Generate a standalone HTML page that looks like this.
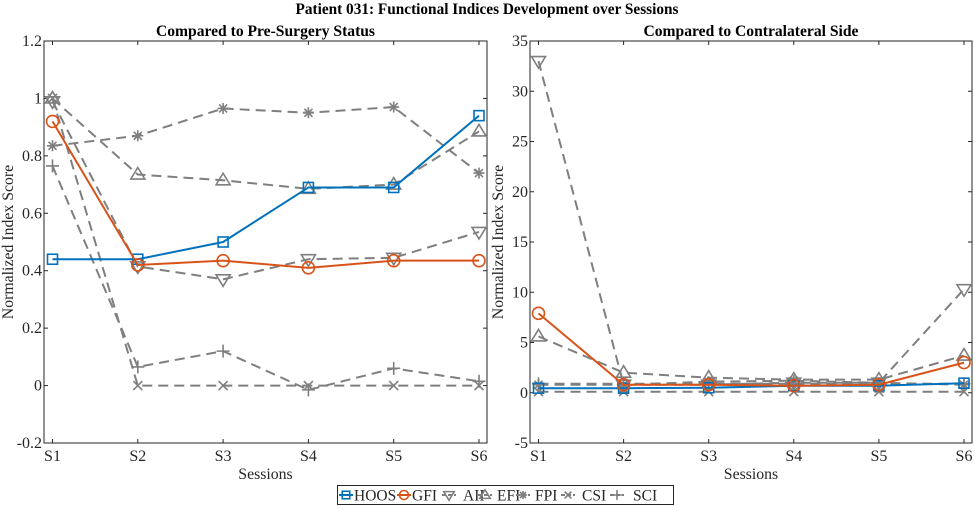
<!DOCTYPE html>
<html><head><meta charset="utf-8"><style>
body{margin:0;background:#fff;}
svg{display:block;font-family:"Liberation Serif",serif;}
</style></head><body>
<svg id="chart" width="975" height="506" viewBox="0 0 975 506" xmlns="http://www.w3.org/2000/svg">
<text x="487" y="14" text-anchor="middle" font-size="15.3" font-weight="bold">Patient 031: Functional Indices Development over Sessions</text>
<g id="plots"></g>
<g id="legend"></g>
</svg>
<script>
const categories = ["S1","S2","S3","S4","S5","S6"];
const seriesNames = ["HOOS","GFI","AII","EFI","FPI","CSI","SCI"];
const leftHOOS = [0.44,0.44,0.50,0.69,0.69,0.94];
const leftGFI = [0.92,0.42,0.435,0.41,0.435,0.435];
const leftAII = [0.99,0.415,0.37,0.44,0.445,0.535];
const leftEFI = [1.0,0.735,0.715,0.685,0.70,0.885];
const leftFPI = [0.835,0.87,0.965,0.95,0.97,0.74];
const leftCSI = [1.0,0,0,0,0,0];
const leftSCI = [0.765,0.065,0.12,-0.015,0.06,0.015];
const rightHOOS = [0.45,0.45,0.5,0.7,0.7,0.95];
const rightGFI = [7.9,0.8,0.8,0.7,0.8,3.0];
const rightAII = [33,0.8,0.8,1.0,1.0,10.3];
const rightEFI = [5.6,2.0,1.5,1.3,1.3,3.7];
const rightFPI = [0.8,0.8,1.1,1.2,1.0,0.8];
const rightCSI = [0.1,0.1,0.1,0.1,0.1,0.1];
const rightSCI = [0.9,0.9,0.9,0.9,0.9,0.9];
const leftTicks = [-0.2,0,0.2,0.4,0.6,0.8,1,1.2];
const leftTickLabels = ["-0.2","0","0.2","0.4","0.6","0.8","1","1.2"];
const rightTicks = [-5,0,5,10,15,20,25,30,35];
const rightTickLabels = ["-5","0","5","10","15","20","25","30","35"];

const NS="http://www.w3.org/2000/svg";
function mk(tag,attrs,parent){const e=document.createElementNS(NS,tag);for(const k in attrs)e.setAttribute(k,attrs[k]);parent.appendChild(e);return e;}
const styles={
 HOOS:{c:"#0072BD",dash:null,m:"square"},
 GFI:{c:"#D95319",dash:null,m:"circle"},
 AII:{c:"#7f7f7f",dash:"10,6",m:"down"},
 EFI:{c:"#7f7f7f",dash:"10,6",m:"up"},
 FPI:{c:"#7f7f7f",dash:"10,6",m:"star"},
 CSI:{c:"#7f7f7f",dash:"10,6",m:"x"},
 SCI:{c:"#7f7f7f",dash:"10,6",m:"plus"}
};
function marker(g,type,x,y,c,k){
 k=k||1;
 const s={fill:"none",stroke:c,"stroke-width":1.6};
 let e;
 if(type==="square") e=mk("rect",Object.assign({x:x-5*k,y:y-5*k,width:10*k,height:10*k},s),g);
 else if(type==="circle") e=mk("circle",Object.assign({cx:x,cy:y,r:6*k},s),g);
 else if(type==="down") e=mk("polygon",Object.assign({points:`${x-7*k},${y-4.5*k} ${x+7*k},${y-4.5*k} ${x},${y+7*k}`},s),g);
 else if(type==="up") e=mk("polygon",Object.assign({points:`${x-7*k},${y+4.5*k} ${x+7*k},${y+4.5*k} ${x},${y-7*k}`},s),g);
 else if(type==="x") e=mk("path",Object.assign({d:`M${x-4.5*k},${y-4.5*k}L${x+4.5*k},${y+4.5*k}M${x-4.5*k},${y+4.5*k}L${x+4.5*k},${y-4.5*k}`},s),g);
 else if(type==="plus") e=mk("path",Object.assign({d:`M${x-6.5*k},${y}L${x+6.5*k},${y}M${x},${y-6.5*k}L${x},${y+6.5*k}`},s),g);
 else if(type==="star") e=mk("path",Object.assign({d:`M${x-5.5*k},${y}L${x+5.5*k},${y}M${x},${y-5.5*k}L${x},${y+5.5*k}M${x-4*k},${y-4*k}L${x+4*k},${y+4*k}M${x-4*k},${y+4*k}L${x+4*k},${y-4*k}`},s),g);
 
 
}
function plot(opt){
 const root=document.getElementById("plots");
 const g=mk("g",{},root);
 
 
 const L=opt.L,R=opt.R,T=41,B=443;
 const x0=L+8.5,x1=R-8;
 const xs=i=>x0+(x1-x0)*i/(categories.length-1);
 const ys=v=>B-(v-opt.min)/(opt.max-opt.min)*(B-T);
 const t=mk("text",{x:(L+R)/2,y:36,"text-anchor":"middle","font-size":15.6,"font-weight":"bold"},g);
 t.textContent=opt.title;
 
 
 const ax=mk("g",{stroke:"#262626","stroke-width":1},g);
 
 
 mk("rect",{x:L,y:T,width:R-L,height:B-T,fill:"none"},ax);
 opt.ticks.forEach((v,i)=>{
  const y=ys(v);
  mk("line",{x1:L,x2:L+4,y1:y,y2:y},ax);
  mk("line",{x1:R,x2:R-4,y1:y,y2:y},ax);
  const tl=mk("text",{x:L-2,y:y+5,"text-anchor":"end","font-size":16,fill:"#262626"},g);
  tl.textContent=opt.labels[i];
  
  
 });
 categories.forEach((c,i)=>{
  const x=xs(i);
  mk("line",{x1:x,x2:x,y1:B,y2:B-4},ax);
  mk("line",{x1:x,x2:x,y1:T,y2:T+4},ax);
  const tl=mk("text",{x:x,y:B+18,"text-anchor":"middle","font-size":16,fill:"#262626"},g);
  tl.textContent=c;
  
  
 });
 const xt=mk("text",{x:(L+R)/2,y:479,"text-anchor":"middle","font-size":15.8,fill:"#262626"},g);
 xt.textContent="Sessions";
 
 
 const yt=mk("text",{x:0,y:0,"text-anchor":"middle","font-size":15.8,fill:"#262626",transform:`translate(${opt.yTitleX},242) rotate(-90)`},g);
 yt.textContent="Normalized Index Score";
 
 
 const order=[2,3,4,5,6,0,1];
 order.forEach(k=>{
  const name=seriesNames[k],st=styles[name],data=opt.data[k];
  const sg=mk("g",{},g);
  
  
  const pts=data.map((v,i)=>xs(i)+","+ys(v)).join(" ");
  const pl=mk("polyline",{points:pts,fill:"none",stroke:st.c,"stroke-width":2},sg);
  if(st.dash) pl.setAttribute("stroke-dasharray",st.dash);
  
  
  data.forEach((v,i)=>marker(sg,st.m,xs(i),ys(v),st.c));
 });
}
plot({name:"left-plot",title:"Compared to Pre-Surgery Status",L:44,R:487,min:-0.2,max:1.2,ticks:leftTicks,labels:leftTickLabels,yTitleX:13,
 data:[leftHOOS,leftGFI,leftAII,leftEFI,leftFPI,leftCSI,leftSCI]});
plot({name:"right-plot",title:"Compared to Contralateral Side",L:530,R:972,min:-5,max:35,ticks:rightTicks,labels:rightTickLabels,yTitleX:503,
 data:[rightHOOS,rightGFI,rightAII,rightEFI,rightFPI,rightCSI,rightSCI]});

// legend
const lg=document.getElementById("legend");
mk("rect",{x:337.5,y:485.5,width:336,height:19,fill:"#fff",stroke:"#262626","stroke-width":1},lg);
const lineX=[339,397,442,478,516,561,610];
const textX=[354,412,463,497,535,582,633];
seriesNames.forEach((n,i)=>{
 const st=styles[n];
 const e=mk("g",{},lg);
 
 
 const l=mk("line",{x1:lineX[i],x2:lineX[i]+14,y1:495,y2:495,stroke:st.c,"stroke-width":2},e);
 if(st.dash) l.setAttribute("stroke-dasharray","4,2");
 marker(e,st.m,lineX[i]+7,495,st.c,0.75);
 const t=mk("text",{x:textX[i],y:500.5,"font-size":15.5,fill:"#262626"},e);
 t.textContent=n;
});
</script>
</body></html>
